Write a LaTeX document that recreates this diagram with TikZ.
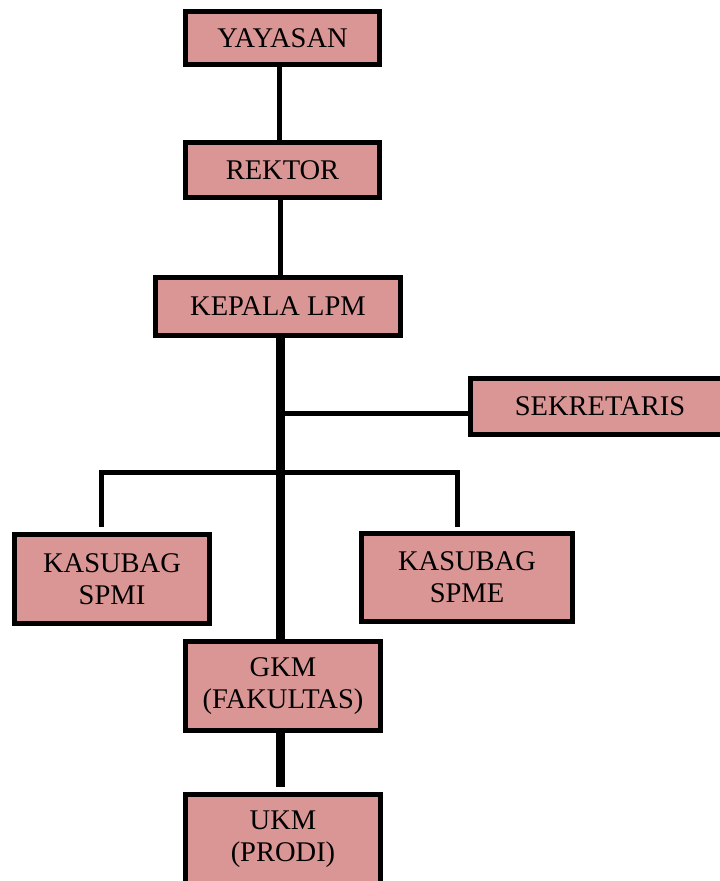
\documentclass[tikz,border=0pt]{standalone}
\usepackage{fontspec}
\setmainfont{Liberation Serif}
\definecolor{boxpink}{HTML}{D99694}
\begin{document}
\begin{tikzpicture}[x=1pt,y=-1pt,
    unit/.style={draw=black,fill=boxpink,line width=5pt,inner sep=0pt,align=center,
      font=\fontsize{28.5}{32}\selectfont},
    thin link/.style={line width=5pt,line join=miter},
    thick link/.style={line width=9pt}]
    \useasboundingbox (0,0) rectangle (720,881);
    % units
    \node[unit,minimum width=194pt,minimum height=53pt] (yayasan) at (282.5,38) {YAYASAN};
    \node[unit,minimum width=194pt,minimum height=55pt] (rektor) at (282.5,170) {REKTOR};
    \node[unit,minimum width=245pt,minimum height=58pt] (kepala) at (278,306.5) {KEPALA LPM};
    \node[unit,minimum width=259pt,minimum height=56pt] (sekretaris) at (600,406.5) {SEKRETARIS};
    \node[unit,minimum width=195pt,minimum height=89pt] (spmi) at (112,579) {KASUBAG\\SPMI};
    \node[unit,minimum width=211pt,minimum height=88pt] (spme) at (467,577.5) {KASUBAG\\SPME};
    \node[unit,minimum width=195pt,minimum height=89pt] (gkm) at (283,686) {GKM\\(FAKULTAS)};
    \node[unit,minimum width=195pt,minimum height=89pt] (ukm) at (283,839) {UKM\\(PRODI)};
    % helper points
    \coordinate (top) at (279.5,0);
    \coordinate (trunk) at (280,0);
    \coordinate (sek) at (280,413.5);
    \coordinate (bar) at (280,472);
    \coordinate (spmitop) at (101.5,527);
    \coordinate (spmetop) at (457,527);
    \coordinate (ukmtop) at (280,787);
    % connectors
    \draw[thin link] (yayasan.south -| top) -- (rektor.north -| top);
    \draw[thin link] (rektor.south -| trunk) -- (kepala.north -| trunk);
    \draw[thin link] (sek) -- (sek -| sekretaris.west);
    \draw[thin link] (spmitop) |- (bar) -| (spmetop);
    \draw[thick link] (kepala.south -| trunk) -- (gkm.north -| trunk);
    \draw[thick link] (gkm.south -| trunk) -- (ukmtop);
\end{tikzpicture}
\end{document}
